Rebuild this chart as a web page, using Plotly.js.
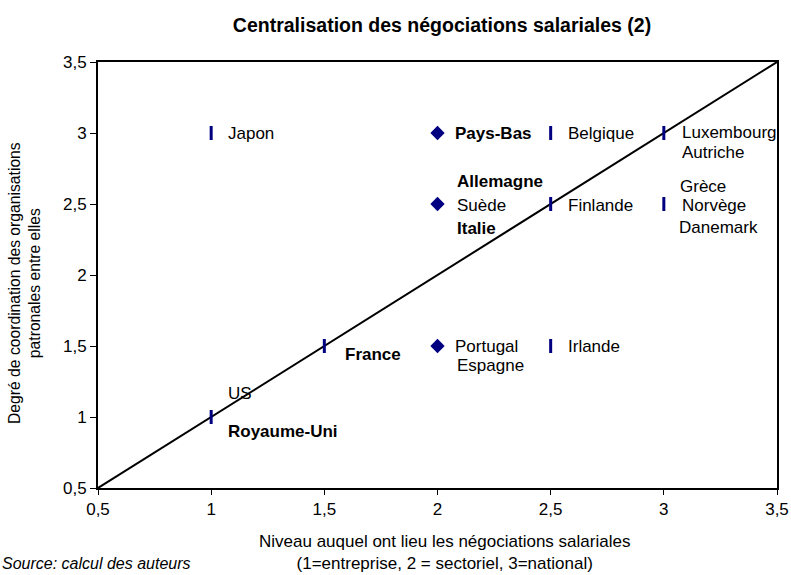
<!DOCTYPE html>
<html>
<head>
<meta charset="utf-8">
<script src="https://cdn.plot.ly/plotly-3.0.1.min.js"></script>
<style>html,body{margin:0;padding:0;background:#fff;}#chart{width:791px;height:575px;}</style>
</head>
<body>
<div id="chart"></div>
<script>
// Diamond markers (countries shown with diamond symbol)
const diamondX = [2, 2, 2];
const diamondY = [3, 2.5, 1.5];
// Dash markers
const dashX = [1, 2.5, 3, 2.5, 3, 1.5, 2.5, 1];
const dashY = [3, 3, 3, 2.5, 2.5, 1.5, 1.5, 1];
// Diagonal reference line
const diagX = [0.5, 3.5];
const diagY = [0.5, 3.5];
// Country labels
const labelText = ["Japon", "Pays-Bas", "Belgique", "Luxembourg", "Autriche", "Allemagne", "Suède", "Italie", "Finlande", "Grèce", "Norvège", "Danemark", "Portugal", "Espagne", "Irlande", "France", "US", "Royaume-Uni"];
const labelX = [1.066, 2.068, 2.568, 3.071, 3.071, 2.077, 2.077, 2.077, 2.568, 3.063, 3.071, 3.058, 2.068, 2.077, 2.568, 1.582, 1.066, 1.066];
const labelY = [3.0, 3.0, 3.0, 3.005, 2.86, 2.662, 2.486, 2.324, 2.486, 2.62, 2.486, 2.338, 1.5, 1.366, 1.5, 1.437, 1.169, 0.901];
const labelBold = [false, true, false, false, false, true, false, true, false, false, false, false, false, false, false, true, false, true];
const xTicks = [0.5, 1, 1.5, 2, 2.5, 3, 3.5];
const yTicks = [0.5, 1, 1.5, 2, 2.5, 3, 3.5];

const font = "Liberation Sans, Arial, sans-serif";
const navy = "#000080";

const traces = [
  {x: diagX, y: diagY, mode: "lines", line: {color: "#000", width: 2}, hoverinfo: "skip", cliponaxis: false},
  {x: dashX, y: dashY, mode: "markers", marker: {symbol: "line-ns", size: 10, line: {color: navy, width: 3}}},
  {x: diamondX, y: diamondY, mode: "markers", marker: {symbol: "diamond", size: 11, color: navy}}
];

const annotations = labelText.map((t, i) => ({
  x: labelX[i], y: labelY[i], xref: "x", yref: "y",
  text: labelBold[i] ? "<b>" + t + "</b>" : t,
  showarrow: false, xanchor: "left", yanchor: "middle",
  font: {family: font, size: 17, color: "#000"}
}));
annotations.push({
  xref: "paper", yref: "paper", x: -98/679, y: -75/426,
  xanchor: "left", yanchor: "middle", showarrow: false,
  text: "<i>Source: calcul des auteurs</i>",
  font: {family: font, size: 16, color: "#000"}
});
annotations.push({
  xref: "paper", yref: "paper", x: -74/679, y: (488-283)/426,
  xanchor: "center", yanchor: "middle", showarrow: false, textangle: -90,
  text: "Degré de coordination des organisations<br>patronales entre elles",
  font: {family: font, size: 15.7, color: "#000"}
});
annotations.push({
  xref: "paper", yref: "paper", x: (444-98)/679, y: -64/426,
  xanchor: "center", yanchor: "middle", showarrow: false,
  text: "Niveau auquel ont lieu les négociations salariales<br>(1=entreprise, 2 = sectoriel, 3=national)",
  font: {family: font, size: 17, color: "#000"}
});

const layout = {
  width: 791, height: 575,
  margin: {l: 98, r: 14, t: 62, b: 87},
  paper_bgcolor: "#fff", plot_bgcolor: "#fff",
  showlegend: false,
  separators: ", ",
  font: {family: font, size: 17, color: "#000"},
  title: {text: "<b>Centralisation des négociations salariales (2)</b>", x: 442/791, xanchor: "center", y: 0.957, yanchor: "middle", font: {family: font, size: 19.5, color: "#000"}},
  xaxis: {
    range: [0.5, 3.5], tickvals: xTicks, showgrid: false, zeroline: false,
    showline: true, linecolor: "#000", linewidth: 2, mirror: true,
    ticks: "outside", ticklen: 5, tickwidth: 1, tickcolor: "#000",
    tickfont: {family: font, size: 17}
  },
  yaxis: {
    range: [0.5, 3.5], tickvals: yTicks, showgrid: false, zeroline: false,
    showline: true, linecolor: "#000", linewidth: 2, mirror: true,
    ticks: "outside", ticklen: 6, tickwidth: 1, tickcolor: "#000",
    tickfont: {family: font, size: 17}
  },
  annotations: annotations
};

Plotly.newPlot("chart", traces, layout, {staticPlot: true});
</script>
</body>
</html>
